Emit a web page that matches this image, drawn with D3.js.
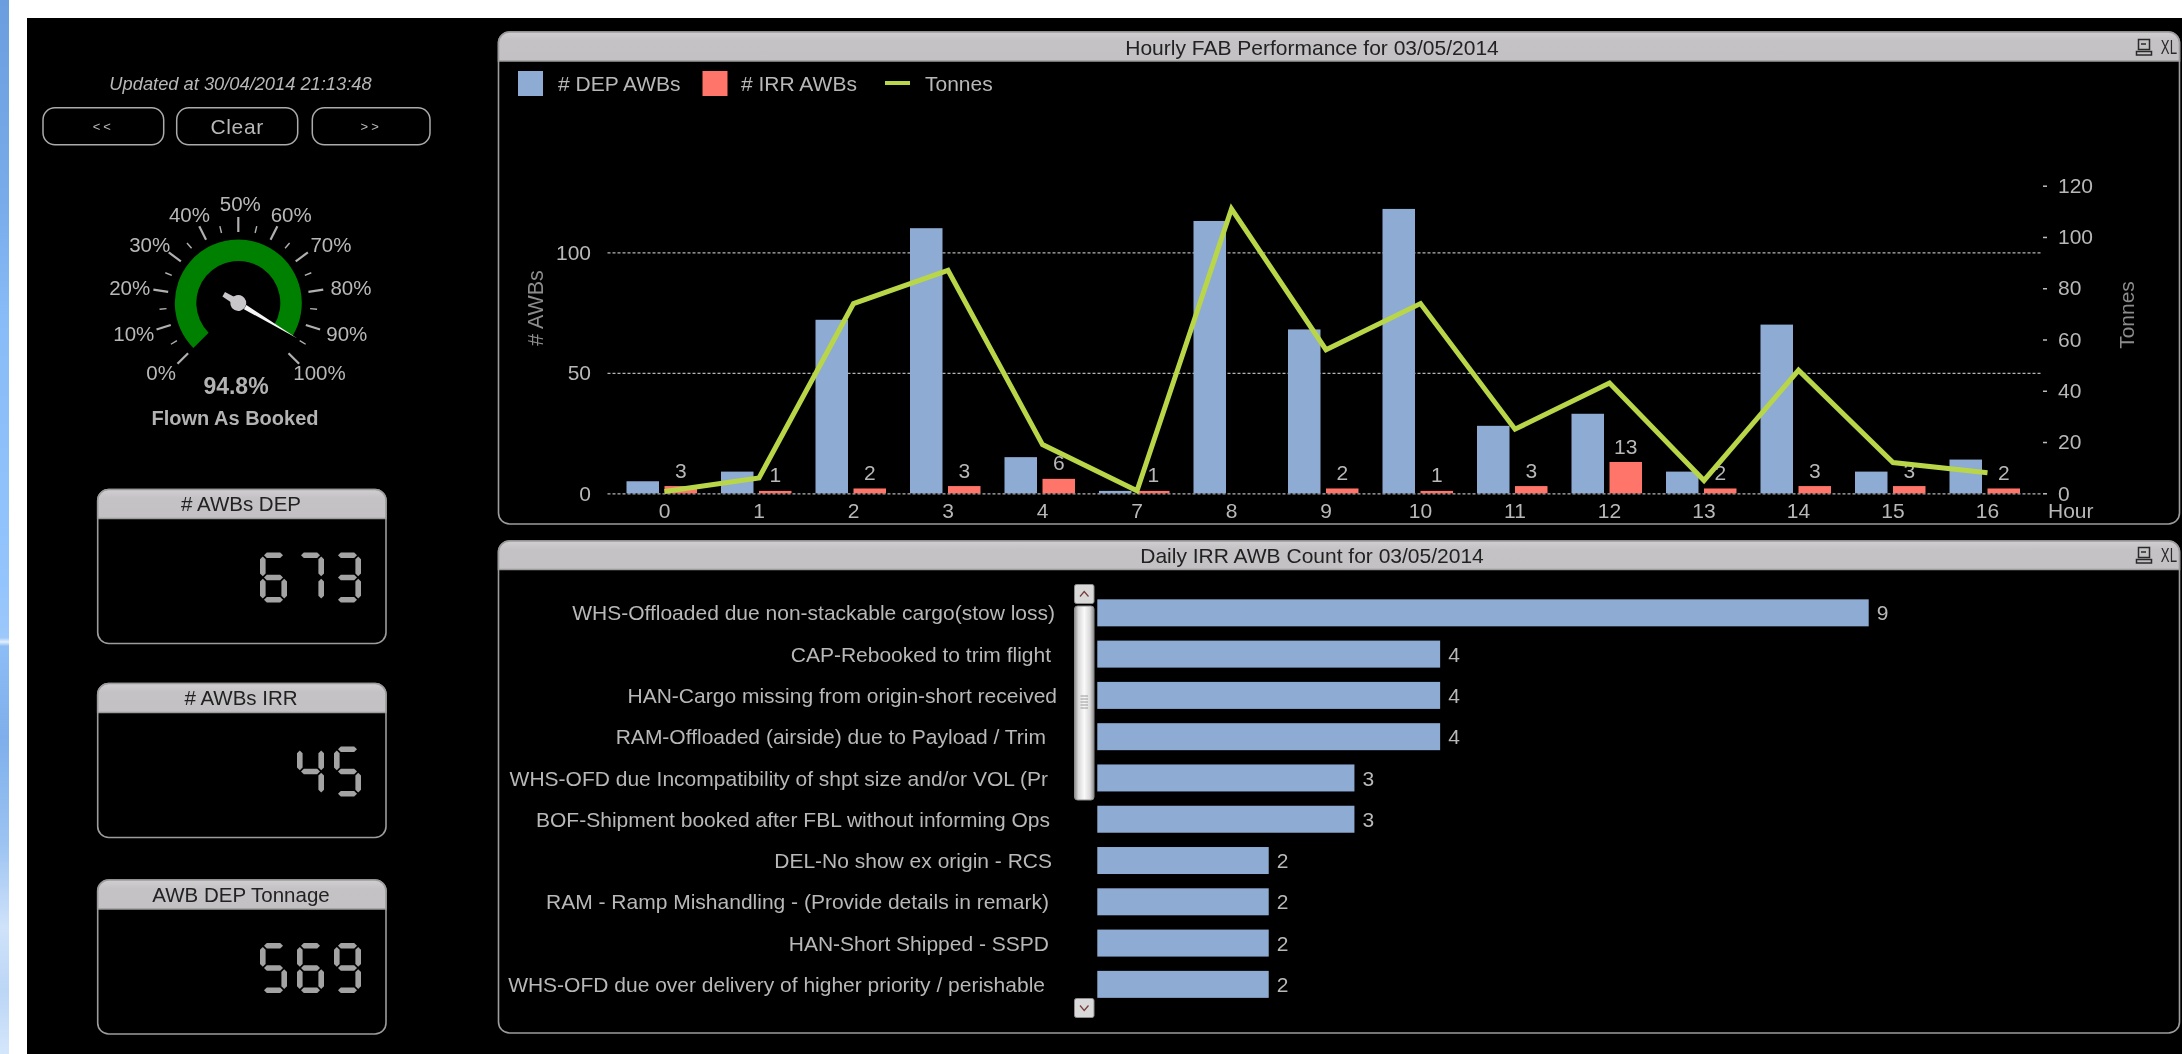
<!DOCTYPE html>
<html><head><meta charset="utf-8">
<script src="https://cdnjs.cloudflare.com/ajax/libs/d3/7.8.5/d3.min.js"></script>
<style>
html,body{margin:0;padding:0;background:#000;overflow:hidden}
svg{display:block;filter:blur(0.4px)}
text{font-family:"Liberation Sans",Arial,sans-serif;fill:#b8b8b8}
</style></head><body>
<svg id="c" width="2182" height="1054"></svg>
<script>
// ---------- data ----------
const hours = ["0","1","2","3","4","7","8","9","10","11","12","13","14","15","16"];
const depAwbs = [5,9,72,110,15,1,113,68,118,28,33,9,70,9,14];
const irrAwbs = [3,1,2,3,6,1,0,2,1,3,13,2,3,3,2];
const tonnes = [0.7,6,74,87,19,1,111,56,74,25,43,5,48,12,8];
const seriesNames = ["# DEP AWBs","# IRR AWBs"];
const leftTicks = [0,50,100];
const rightTicks = [0,20,40,60,80,100,120];
const irrReasons = [
 "WHS-Offloaded due non-stackable cargo(stow loss)",
 "CAP-Rebooked to trim flight",
 "HAN-Cargo missing from origin-short received",
 "RAM-Offloaded (airside) due to Payload / Trim",
 "WHS-OFD due Incompatibility of shpt size and/or VOL (Pr",
 "BOF-Shipment booked after FBL without informing Ops",
 "DEL-No show ex origin - RCS",
 "RAM - Ramp Mishandling - (Provide details in remark)",
 "HAN-Short Shipped - SSPD",
 "WHS-OFD due over delivery of higher priority / perishable"];
const irrCounts = [9,4,4,4,3,3,2,2,2,2];
const gaugeValue = 94.8;
const gaugeTicks = [0,10,20,30,40,50,60,70,80,90,100];
const kpiTitles = ["# AWBs DEP","# AWBs IRR","AWB DEP Tonnage"];
const kpiValues = ["673","45","569"];
// ---------- layout ----------
const labelEnds = [1055,1051,1057,1046,1048,1050,1052,1049,1049,1045];
const kpiTops = [489.5,683.5,880];
const C = {blue:"#8eabd4",red:"#ff7569",lime:"#b9d648",head:"#c3c1c4",line:"#9c9c9c",text:"#b8b8b8",dim:"#8c8c8c"};
const FS = 21;

const svg = d3.select("#c");
const defs = svg.append("defs");
const sky = defs.append("linearGradient").attr("id","sky").attr("x1",0).attr("x2",0).attr("y1",0).attr("y2",1);
[[0,"#6a9ede"],[.2,"#78aceb"],[.3,"#88bcf8"],[.55,"#93c4fc"],[.605,"#9cc8fb"],[.609,"#e4effb"],[.613,"#8dbdf5"],[.7,"#7eafec"],[.8,"#9cc3f2"],[.88,"#cfe2fa"],[.94,"#bcd6f6"],[1,"#d4e6fb"]].forEach(s=>sky.append("stop").attr("offset",s[0]).attr("stop-color",s[1]));
const thumb = defs.append("linearGradient").attr("id","thumb");
[[0,"#8d8d8d"],[.2,"#d8d8d8"],[.5,"#fafafa"],[.8,"#d8d8d8"],[1,"#8d8d8d"]].forEach(s=>thumb.append("stop").attr("offset",s[0]).attr("stop-color",s[1]));
const hdr = defs.append("linearGradient").attr("id","hdr").attr("x1",0).attr("x2",0).attr("y1",0).attr("y2",1);
[[0,"#d0ced1"],[.3,"#c4c2c5"],[1,"#c3c1c4"]].forEach(s=>hdr.append("stop").attr("offset",s[0]).attr("stop-color",s[1]));

// page
svg.append("rect").attr("width",2182).attr("height",1054).attr("fill","#fff");
svg.append("rect").attr("width",9).attr("height",1054).attr("fill","url(#sky)");
svg.append("rect").attr("x",27).attr("y",18).attr("width",2155).attr("height",1036).attr("fill","#000");

function panel(x,y,w,h,headH,r){
  const g = svg.append("g");
  g.append("rect").attr("x",x).attr("y",y).attr("width",w).attr("height",h).attr("rx",r).attr("fill","#000").attr("stroke",C.line).attr("stroke-width",1.6);
  const p = d3.path();
  p.moveTo(x,y+headH); p.lineTo(x,y+r); p.arcTo(x,y,x+r,y,r); p.lineTo(x+w-r,y); p.arcTo(x+w,y,x+w,y+r,r); p.lineTo(x+w,y+headH); p.closePath();
  g.append("path").attr("d",p.toString()).attr("fill","url(#hdr)").attr("stroke",C.line).attr("stroke-width",1.6);
  return g;
}
function xlBadge(cy){
  const g = svg.append("g").attr("stroke","#2a2a2a").attr("fill","none").attr("stroke-width",1.5);
  g.append("rect").attr("x",2138.5).attr("y",cy-7.5).attr("width",11).attr("height",10);
  g.append("rect").attr("x",2136.5).attr("y",cy+4.5).attr("width",15).attr("height",3.5);
  g.append("line").attr("x1",2141).attr("x2",2146).attr("y1",cy-3).attr("y2",cy-3);
  svg.append("text").attr("transform",`translate(2177,${cy}) scale(0.66,1)`).attr("dy","0.36em").attr("text-anchor","end").attr("font-size",20).style("fill","#2a2a2a").text("XL");
}
function headText(x,y,t,size){
  return svg.append("text").attr("x",x).attr("y",y).attr("dy","0.36em").attr("text-anchor","middle").attr("font-size",size||FS).style("fill","#222").text(t);
}

// ---------- top chart ----------
panel(498.5,32,1681,492,29,11);
headText(1312,47,"Hourly FAB Performance for 03/05/2014",21);
xlBadge(47);

const x0 = d3.scaleBand().domain(hours).range([617.25,2034.75]);
const xInner = d3.scaleBand().domain(seriesNames).range([-38,32.5]).paddingInner(0.145);
const xc = h => x0(h)+x0.bandwidth()/2;
const yL = d3.scaleLinear().domain([0,100]).range([493.3,252.3]);
const yR = d3.scaleLinear().domain([0,120]).range([493.3,185.7]);

// grid
const gridG = svg.append("g");
gridG.selectAll("line").data(leftTicks).join("line")
 .attr("x1",607.5).attr("x2",2042).attr("y1",d=>yL(d)+.5).attr("y2",d=>yL(d)+.5)
 .attr("stroke","#b4b4b4").attr("stroke-width",1.2).attr("stroke-dasharray","3,2");

// bars
const rows = hours.map((h,i)=>({h,dep:depAwbs[i],irr:irrAwbs[i],t:tonnes[i]}));
svg.append("g").selectAll("rect").data(rows).join("rect")
 .attr("x",d=>xc(d.h)+xInner(seriesNames[0])).attr("width",xInner.bandwidth())
 .attr("y",d=>yL(d.dep)).attr("height",d=>yL(0)-yL(d.dep)).attr("fill",C.blue);
svg.append("g").selectAll("rect").data(rows.filter(d=>d.irr>0)).join("rect")
 .attr("x",d=>xc(d.h)+xInner(seriesNames[1])).attr("width",xInner.bandwidth())
 .attr("y",d=>yL(d.irr)).attr("height",d=>yL(0)-yL(d.irr)).attr("fill",C.red);
// labels
svg.append("g").selectAll("text").data(rows.filter(d=>d.irr>0)).join("text")
 .attr("x",d=>xc(d.h)+xInner(seriesNames[1])+xInner.bandwidth()/2)
 .attr("y",d=>yL(d.irr)-16).attr("dy","0.36em").attr("text-anchor","middle").attr("font-size",FS).text(d=>d.irr);
// line
svg.append("path").datum(rows).attr("fill","none").attr("stroke",C.lime).attr("stroke-width",5)
 .attr("stroke-linejoin","miter")
 .attr("d",d3.line().x(d=>xc(d.h)).y(d=>yR(d.t)));

// axes
function styleAxis(g){ g.select(".domain").remove(); g.selectAll("text").attr("font-size",FS).attr("font-family",null).style("fill",C.text); }
svg.append("g").attr("transform","translate(602,0)")
 .call(d3.axisLeft(yL).tickValues(leftTicks).tickSize(0).tickPadding(11)).call(styleAxis);
const ra = svg.append("g").attr("transform","translate(2043,0)")
 .call(d3.axisRight(yR).tickValues(rightTicks).tickSize(4).tickPadding(11)).call(styleAxis);
ra.selectAll("line").attr("stroke","#bdbdbd").attr("stroke-width",1.5);
svg.append("g").attr("transform","translate(0,510)")
 .call(d3.axisBottom(x0).tickSize(0).tickPadding(0)).call(styleAxis)
 .selectAll("text").attr("y",0).attr("dy","0.36em");
svg.append("text").attr("x",2048).attr("y",510).attr("dy","0.36em").attr("font-size",FS).text("Hour");
svg.append("text").attr("transform","translate(535,308) rotate(-90)").attr("dy","0.36em").attr("text-anchor","middle").attr("font-size",21.5).style("fill",C.dim).text("# AWBs");
svg.append("text").attr("transform","translate(2126,315) rotate(-90)").attr("dy","0.36em").attr("text-anchor","middle").attr("font-size",21).style("fill",C.dim).text("Tonnes");

// legend
svg.append("rect").attr("x",518).attr("y",71).attr("width",25).attr("height",25).attr("fill",C.blue);
svg.append("text").attr("x",558).attr("y",83).attr("dy","0.36em").attr("font-size",FS).text(seriesNames[0]);
svg.append("rect").attr("x",702.5).attr("y",71).attr("width",25).attr("height",25).attr("fill",C.red);
svg.append("text").attr("x",741).attr("y",83).attr("dy","0.36em").attr("font-size",FS).text(seriesNames[1]);
svg.append("line").attr("x1",885).attr("x2",910).attr("y1",83).attr("y2",83).attr("stroke",C.lime).attr("stroke-width",4);
svg.append("text").attr("x",925).attr("y",83).attr("dy","0.36em").attr("font-size",FS).text("Tonnes");

// ---------- bottom chart ----------
panel(498.5,541,1681,492,28.5,11);
headText(1312,555,"Daily IRR AWB Count for 03/05/2014",21);
xlBadge(555);

const yB = d3.scaleBand().domain(irrReasons).range([592.2,1005]).paddingInner(0.346).paddingOuter(0.173);
const xB = d3.scaleLinear().domain([0,9]).range([1097.3,1868.7]);
const bRows = irrReasons.map((r,i)=>({r,v:irrCounts[i],end:labelEnds[i]}));
svg.append("g").selectAll("rect").data(bRows).join("rect")
 .attr("x",xB(0)).attr("y",d=>yB(d.r)).attr("height",yB.bandwidth())
 .attr("width",d=>xB(d.v)-xB(0)).attr("fill",C.blue);
svg.append("g").selectAll("text").data(bRows).join("text")
 .attr("x",d=>xB(d.v)+8).attr("y",d=>yB(d.r)+yB.bandwidth()/2).attr("dy","0.36em").attr("font-size",FS).text(d=>d.v);
svg.append("g").selectAll("text").data(bRows).join("text")
 .attr("x",d=>d.end).attr("y",d=>yB(d.r)+yB.bandwidth()/2).attr("dy","0.36em").attr("text-anchor","end").attr("font-size",FS).text(d=>d.r);

// scrollbar
const sb = svg.append("g");
function sbBtn(y,up){
  sb.append("rect").attr("x",1074.5).attr("y",y).attr("width",19.5).attr("height",19).attr("rx",2).attr("fill","#d9d9d9").attr("stroke","#8c8c8c");
  const m = y+9.5, dy = up?2.5:-2.5;
  sb.append("path").attr("d",`M1080,${m+dy} L1084.2,${m-dy} L1088.5,${m+dy}`).attr("fill","none").attr("stroke","#7a3a3a").attr("stroke-width",1.2);
}
sbBtn(584.5,true); sbBtn(998.5,false);
sb.append("rect").attr("x",1074.5).attr("y",606).attr("width",19.5).attr("height",194).attr("rx",3).attr("fill","url(#thumb)").attr("stroke","#8c8c8c");
[696,699,702,705,708].forEach(y=>sb.append("line").attr("x1",1080.5).attr("x2",1088).attr("y1",y).attr("y2",y).attr("stroke","#9a9a9a"));

// ---------- left column ----------
svg.append("text").attr("x",240.5).attr("y",83).attr("dy","0.36em").attr("text-anchor","middle").attr("font-size",18.3).attr("font-style","italic").text("Updated at 30/04/2014 21:13:48");
[[43,120.7,"<<"],[176.7,121,"Clear"],[312.3,117.7,">>"]].forEach(b=>{
  svg.append("rect").attr("x",b[0]).attr("y",107.7).attr("width",b[1]).attr("height",37).attr("rx",12).attr("fill","#000").attr("stroke","#ababab").attr("stroke-width",1.5);
  svg.append("text").attr("x",b[0]+b[1]/2).attr("y",126.5).attr("dy","0.36em").attr("text-anchor","middle")
   .attr("font-size",b[2]==="Clear"?21:13).attr("letter-spacing",b[2]==="Clear"?0.6:3).text(b[2]);
});

// gauge
const gx = 238.3, gy = 303;
const ang = d3.scaleLinear().domain([0,100]).range([-135,135]);
const rad = d => ang(d)*Math.PI/180;
const G = svg.append("g").attr("transform",`translate(${gx},${gy})`);
G.append("path").attr("fill","#008000").attr("d",d3.arc()({innerRadius:42,outerRadius:63.5,startAngle:rad(0),endAngle:rad(gaugeValue)}));
const majors = gaugeTicks;
const minors = d3.pairs(gaugeTicks).map(p=>(p[0]+p[1])/2);
const tick = (sel,r0,r1,w) => sel.attr("x1",d=>r0*Math.sin(rad(d))).attr("y1",d=>-r0*Math.cos(rad(d)))
  .attr("x2",d=>r1*Math.sin(rad(d))).attr("y2",d=>-r1*Math.cos(rad(d))).attr("stroke","#b0b0b0").attr("stroke-width",w);
G.append("g").selectAll("line").data(majors).join("line").call(tick,71,86,2.2);
G.append("g").selectAll("line").data(minors).join("line").call(tick,72,79,1.4);
G.append("g").selectAll("text").data(majors).join("text")
 .attr("x",d=>2+112*Math.sin(rad(d))).attr("y",d=>-99*Math.cos(rad(d))).attr("dy","0.36em").attr("text-anchor","middle").attr("font-size",20.5).text(d=>d+"%");
// needle
const nA = ang(gaugeValue);
const N = G.append("g").attr("transform",`rotate(${nA})`);
N.append("path").attr("d","M0,-69 L2.4,-8 L-2.4,-8 Z").attr("fill","#f6f6f6");
N.append("circle").attr("r",8).attr("fill","#c8c6c9");
N.append("path").attr("d","M-3.5,0 L-2.5,17 L2.5,17 L3.5,0 Z").attr("fill","#c8c6c9");
svg.append("text").attr("x",236).attr("y",385.7).attr("dy","0.36em").attr("text-anchor","middle").attr("font-size",23).attr("font-weight","bold").style("fill","#b3b3b3").text(gaugeValue.toFixed(1)+"%");
svg.append("text").attr("x",235).attr("y",417.7).attr("dy","0.36em").attr("text-anchor","middle").attr("font-size",20).attr("font-weight","bold").style("fill","#b3b3b3").text("Flown As Booked");

// KPI boxes with seven-segment digits
const segMap = {"0":"abcdef","1":"bc","2":"abged","3":"abgcd","4":"fgbc","5":"afgcd","6":"afgedc","7":"abc","8":"abcdefg","9":"abcdfg"};
function segPoly(s,W,H,T){
  const m=H/2, g=1.2;
  const hz=(y)=>`M${g+T/2},${y} L${g+T},${y-T/2} L${W-g-T},${y-T/2} L${W-g-T/2},${y} L${W-g-T},${y+T/2} L${g+T},${y+T/2} Z`;
  const vt=(x,y0,y1)=>`M${x},${y0+g} L${x+T/2},${y0+g+T/2} L${x+T/2},${y1-g-T/2} L${x},${y1-g} L${x-T/2},${y1-g-T/2} L${x-T/2},${y0+g+T/2} Z`;
  return {a:hz(T/2),g:hz(m),d:hz(H-T/2),f:vt(T/2,T/2,m),b:vt(W-T/2,T/2,m),e:vt(T/2,m,H-T/2),c:vt(W-T/2,m,H-T/2)}[s];
}
kpiTitles.forEach((t,i)=>{
  const top = kpiTops[i];
  panel(97.7,top,288.3,154,29,11);
  headText(241,top+14.5,t,20.5);
  const digits = kpiValues[i].split("").reverse();
  const dg = svg.append("g");
  digits.forEach((d,k)=>{
    const ox = 361-27-k*37, oy = top+63;
    const one = dg.append("g").attr("transform",`translate(${ox},${oy})`);
    segMap[d].split("").forEach(s=>one.append("path").attr("d",segPoly(s,27,50,5.6)).attr("fill","#a3a3a3"));
  });
  // same number kept as real text over the drawn digits
  svg.append("text").attr("x",361).attr("y",top+88).attr("dy","0.36em").attr("text-anchor","end").attr("font-size",40).style("fill","transparent").text(kpiValues[i]);
});
</script>
</body></html>
